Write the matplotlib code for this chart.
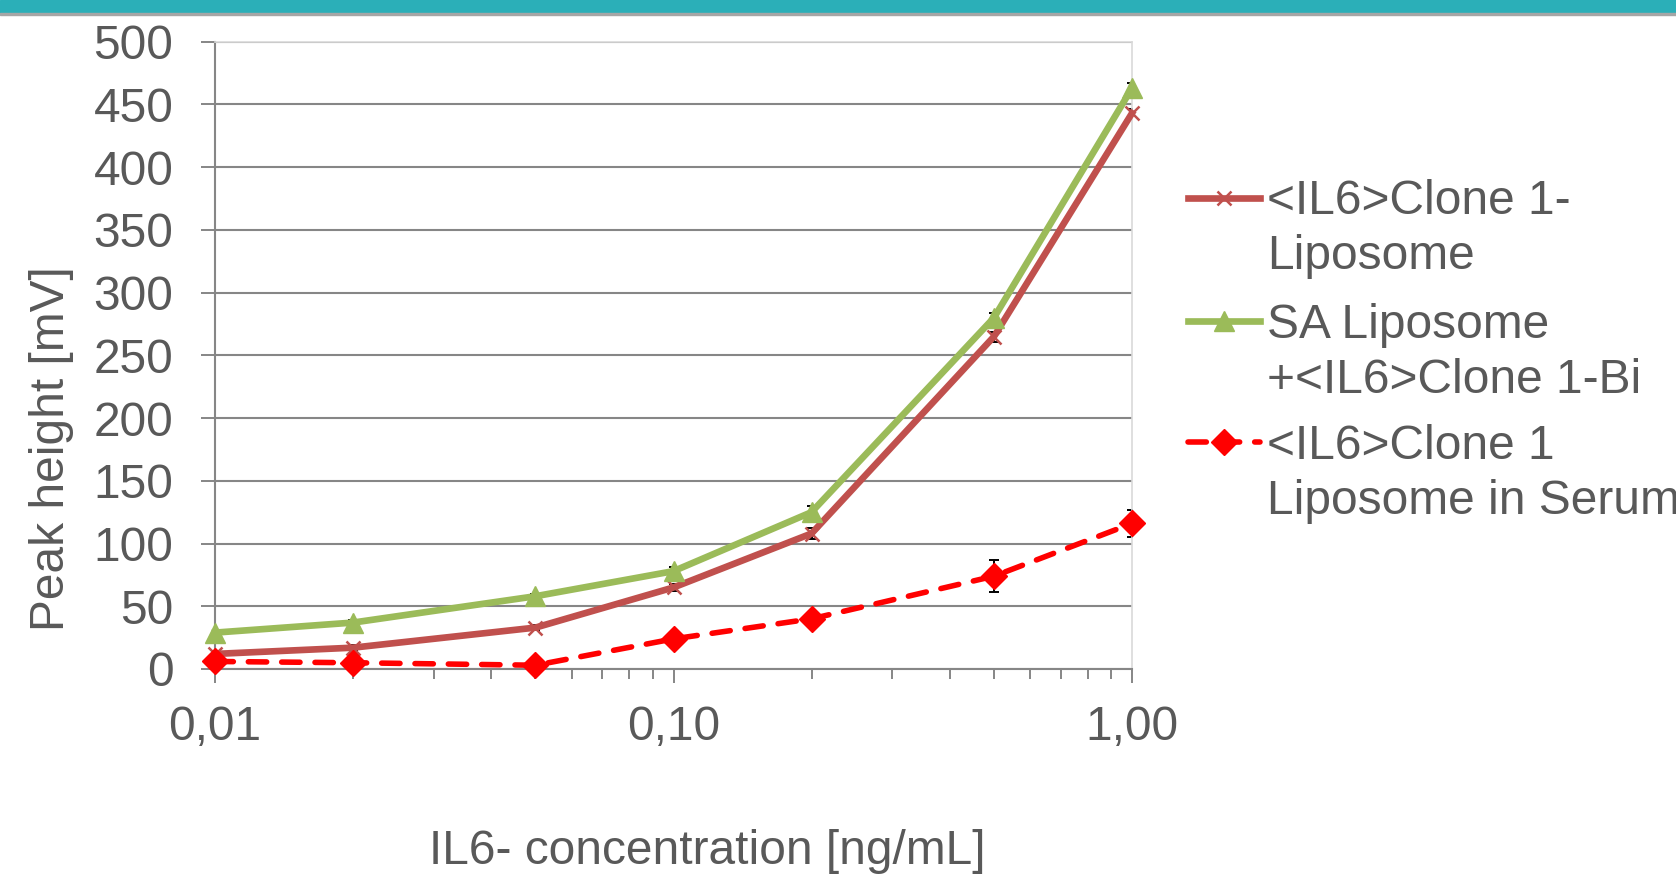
from matplotlib import pyplot as plt
from matplotlib.lines import Line2D
from matplotlib.patches import Rectangle
import matplotlib.ticker as mticker

plt.rcParams["font.family"] = ["Liberation Sans", "DejaVu Sans"]

# data
conc = [0.01, 0.02, 0.05, 0.1, 0.2, 0.5, 1.0]
clone_lipo = [12, 17, 33, 65, 108, 265, 443]
clone_lipo_err = [2, 2, 2, 3, 4, 4, 3]
sa_lipo = [29, 37, 58, 78, 125, 280, 463]
sa_lipo_err = [2, 2, 2, 3, 5, 4, 4]
serum = [6, 5, 3, 24, 40, 74, 116]
serum_err = [2, 2, 1, 2, 2, 13, 11]

x_ticks = [0.01, 0.1, 1.0]
x_ticklabels = ["0,01", "0,10", "1,00"]
y_ticks = list(range(0, 501, 50))

legend_lines = [
    ["<IL6>Clone 1-", "Liposome"],
    ["SA Liposome", "+<IL6>Clone 1-Bi"],
    ["<IL6>Clone 1", "Liposome in Serum"],
]

text_col = "#595959"
grid_col = "#868686"
fs = 34.5

fig = plt.figure(figsize=(16.76, 8.82), dpi=100)
W, H = 1676, 882

# teal header strip
fig.patches.append(Rectangle((0, 1 - 13 / H), 1, 13 / H, transform=fig.transFigure,
                             color="#2BAFB8", zorder=0))
fig.patches.append(Rectangle((0, 1 - 14.5 / H), 1, 1.5 / H, transform=fig.transFigure,
                             color="#A6A6A6", zorder=0))

ax = fig.add_axes([215 / W, 1 - 669 / H, (1132 - 215) / W, (669 - 41.7) / H])

series = [
    (clone_lipo, clone_lipo_err, dict(color="#C0504D", marker="x", ms=10, mew=1.8, lw=4.8, ls="-")),
    (sa_lipo, sa_lipo_err, dict(color="#9BBB59", marker="^", ms=15, lw=4.8, ls="-")),
    (serum, serum_err, dict(color="#FF0000", marker="D", ms=13, lw=4.0, ls=(0, (3.3, 2.7)),
                            dash_capstyle="round")),
]

for vals, err, st in series:
    ax.errorbar(conc, vals, yerr=err, fmt="none", ecolor="black", elinewidth=1.4,
                capsize=3.6, capthick=1.4, zorder=2)
    ax.plot(conc, vals, zorder=3, clip_on=False, **st)

ax.set_xscale("log")
ax.set_xlim(0.01, 1.0)
ax.set_ylim(0, 500)
ax.xaxis.set_major_locator(mticker.FixedLocator(x_ticks))
ax.xaxis.set_major_formatter(mticker.FixedFormatter(x_ticklabels))
ax.xaxis.set_minor_locator(mticker.LogLocator(base=10, subs=range(2, 10)))
ax.xaxis.set_minor_formatter(mticker.NullFormatter())
ax.set_yticks(y_ticks)

ax.tick_params(axis="x", which="major", length=10, width=1.4, color=grid_col,
               labelsize=fs, labelcolor=text_col, pad=16)
ax.tick_params(axis="x", which="minor", length=7.5, width=1.4, color=grid_col)
ax.tick_params(axis="y", length=10, width=1.4, color=grid_col,
               labelsize=fs, labelcolor=text_col, pad=20)

ax.yaxis.grid(True, color=grid_col, lw=1.5)
ax.set_axisbelow(True)
for side in ["left", "bottom"]:
    ax.spines[side].set_color(grid_col)
    ax.spines[side].set_linewidth(1.5)
for side in ["top", "right"]:
    ax.spines[side].set_color("#D9D9D9")
    ax.spines[side].set_linewidth(1.2)

fig.text(51 / W, 1 - 449 / H, "Peak height [mV]", rotation=90, ha="center", va="center",
         fontsize=fs, color=text_col)
fig.text(707 / W, 1 - 852 / H, "IL6- concentration [ng/mL]", ha="center", va="center",
         fontsize=fs, color=text_col)

# legend drawn by hand so the key sits on the first line of each label
handle_y = [197.7, 321.0, 442.3]
for (vals, err, st), lines, hy in zip(series, legend_lines, handle_y):
    yf = 1 - hy / H
    fig.add_artist(Line2D([1188 / W, 1260 / W], [yf, yf], transform=fig.transFigure,
                          **{k: v for k, v in st.items() if k not in ("marker", "ms", "mew")}))
    fig.add_artist(Line2D([1224 / W], [yf], transform=fig.transFigure, ls="none",
                          color=st["color"], marker=st["marker"], ms=st["ms"],
                          mew=st.get("mew", 1)))
    for i, line in enumerate(lines):
        base = hy + 16.5 + i * 55
        fig.text(1267 / W, 1 - base / H, line, ha="left", va="baseline",
                 fontsize=fs, color=text_col)

fig.savefig("out.png", dpi=100)
